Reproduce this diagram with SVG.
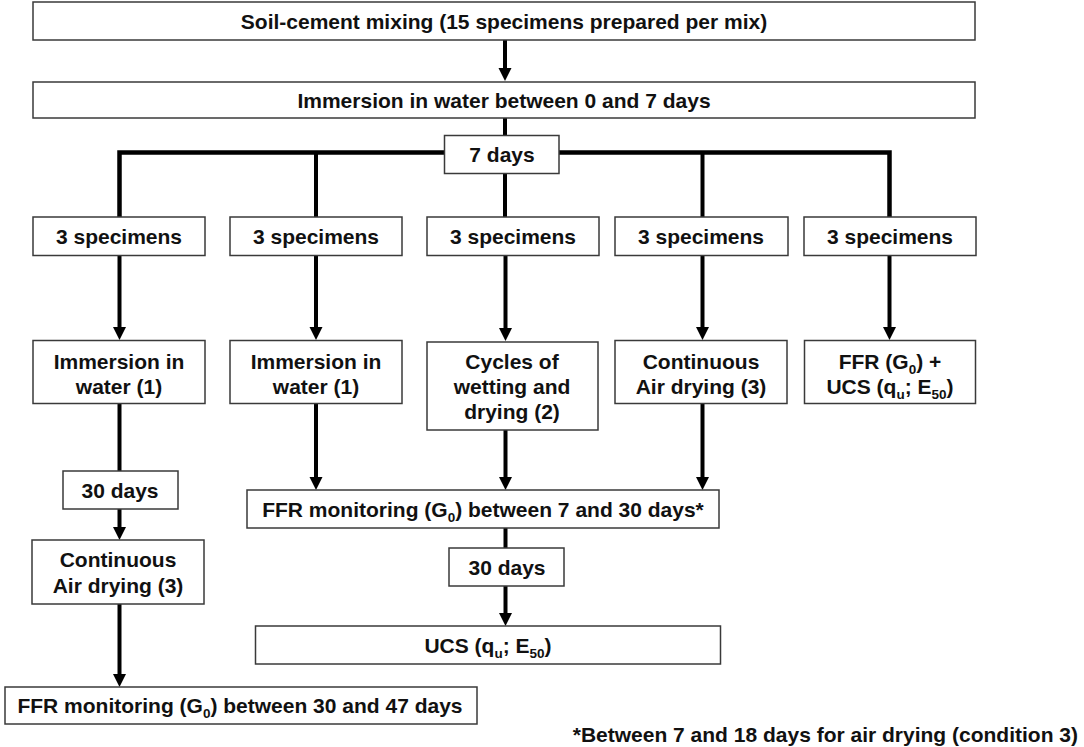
<svg xmlns="http://www.w3.org/2000/svg" width="1084" height="747" viewBox="0 0 1084 747">
<style>
.box{fill:#fff;stroke:#3a3a3a;stroke-width:1.5}
.t{font-family:"Liberation Sans",Arial,sans-serif;font-weight:bold;font-size:21px;fill:#111;text-anchor:middle}
.ln{fill:none;stroke:#000;stroke-width:4}
.ar{fill:none;stroke:#000;stroke-width:4;marker-end:url(#ah)}
.sub{font-size:13.5px}
</style>
<defs>
<marker id="ah" markerUnits="userSpaceOnUse" viewBox="0 -7 13 14" refX="1" refY="0" markerWidth="13" markerHeight="14" orient="auto">
<path d="M0,-6.5 L13,0 L0,6.5 z" fill="#000"/>
</marker>
</defs>
<rect width="1084" height="747" fill="#fff"/>
<g id="connectors">
<path class="ar" d="M505,40 V69"/>
<path class="ln" d="M505,118 V136"/>
<path class="ln" d="M119.5,217 V152.5 H889.5 V217" style="stroke-width:4.5"/>
<path class="ln" d="M316,152 V217"/>
<path class="ln" d="M702.5,152 V217"/>
<path class="ln" d="M505,173 V217"/>
<path class="ar" d="M119.5,256 V328"/>
<path class="ar" d="M316,256 V328"/>
<path class="ar" d="M505.5,256 V329"/>
<path class="ar" d="M702.5,256 V328"/>
<path class="ar" d="M889.5,256 V328"/>
<path class="ln" d="M119.5,403 V471"/>
<path class="ar" d="M119.5,509 V528"/>
<path class="ar" d="M119.5,604 V675"/>
<path class="ar" d="M316,403 V478"/>
<path class="ar" d="M505.5,430 V478"/>
<path class="ar" d="M702.5,403 V478"/>
<path class="ln" d="M505.5,528 V548"/>
<path class="ar" d="M505.5,586 V614"/>
</g>
<g id="n-mix"><rect class="box" x="33" y="2" width="942" height="38"/><text class="t" x="504" y="28.5">Soil-cement mixing (15 specimens prepared per mix)</text></g>
<g id="n-imm07"><rect class="box" x="33" y="82" width="942" height="36"/><text class="t" x="504" y="107.5">Immersion in water between 0 and 7 days</text></g>
<g id="n-7days"><rect class="box" x="444.5" y="135.5" width="114.5" height="38"/><text class="t" x="502" y="161.5">7 days</text></g>
<g id="n-s1"><rect class="box" x="33" y="217" width="172" height="38.5"/><text class="t" x="119" y="244">3 specimens</text></g>
<g id="n-s2"><rect class="box" x="230" y="217" width="172" height="38.5"/><text class="t" x="316" y="244">3 specimens</text></g>
<g id="n-s3"><rect class="box" x="427" y="217" width="172" height="38.5"/><text class="t" x="513" y="244">3 specimens</text></g>
<g id="n-s4"><rect class="box" x="615" y="217" width="173" height="38.5"/><text class="t" x="701" y="244">3 specimens</text></g>
<g id="n-s5"><rect class="box" x="804" y="217" width="172" height="38.5"/><text class="t" x="890" y="244">3 specimens</text></g>
<g id="n-w1"><rect class="box" x="33" y="340.5" width="172" height="63"/><text class="t" x="119" y="368.5">Immersion in</text><text class="t" x="119" y="393.5">water (1)</text></g>
<g id="n-w2"><rect class="box" x="230" y="340.5" width="172" height="63"/><text class="t" x="316" y="368.5">Immersion in</text><text class="t" x="316" y="393.5">water (1)</text></g>
<g id="n-cyc"><rect class="box" x="427" y="342" width="171" height="88"/><text class="t" x="512" y="369">Cycles of</text><text class="t" x="512" y="394">wetting and</text><text class="t" x="512" y="419">drying (2)</text></g>
<g id="n-air"><rect class="box" x="615" y="340.5" width="172" height="63"/><text class="t" x="701" y="368.5">Continuous</text><text class="t" x="701" y="393.5">Air drying (3)</text></g>
<g id="n-ffrucs"><rect class="box" x="804.5" y="340.5" width="171" height="63"/><text class="t" x="890" y="368.5">FFR (G<tspan class="sub" dy="5">0</tspan><tspan dy="-5">) +</tspan></text><text class="t" x="890" y="393.5">UCS (q<tspan class="sub" dy="5">u</tspan><tspan dy="-5">; E</tspan><tspan class="sub" dy="5">50</tspan><tspan dy="-5">)</tspan></text></g>
<g id="n-30a"><rect class="box" x="63" y="471" width="115" height="38"/><text class="t" x="120" y="497.5">30 days</text></g>
<g id="n-air2"><rect class="box" x="32" y="540" width="172" height="64"/><text class="t" x="118" y="567">Continuous</text><text class="t" x="118" y="593">Air drying (3)</text></g>
<g id="n-ffr3047"><rect class="box" x="5" y="687" width="472" height="37"/><text class="t" x="240" y="713">FFR monitoring (G<tspan class="sub" dy="5">0</tspan><tspan dy="-5">) between 30 and 47 days</tspan></text></g>
<g id="n-ffr730"><rect class="box" x="247" y="490" width="472" height="38"/><text class="t" x="483" y="516.5">FFR monitoring (G<tspan class="sub" dy="5">0</tspan><tspan dy="-5">) between 7 and 30 days*</tspan></text></g>
<g id="n-30b"><rect class="box" x="449" y="548" width="115" height="38"/><text class="t" x="507" y="574.5">30 days</text></g>
<g id="n-ucs"><rect class="box" x="255.5" y="626" width="465" height="38"/><text class="t" x="488" y="652.5">UCS (q<tspan class="sub" dy="5">u</tspan><tspan dy="-5">; E</tspan><tspan class="sub" dy="5">50</tspan><tspan dy="-5">)</tspan></text></g>
<g id="footnote"><text class="t" x="1078" y="742" style="text-anchor:end">*Between 7 and 18 days for air drying (condition 3)</text></g>
</svg>
